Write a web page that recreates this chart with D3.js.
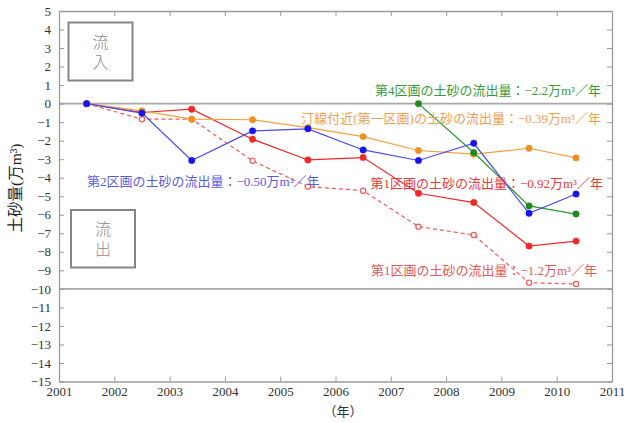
<!DOCTYPE html>
<html>
<head>
<meta charset="utf-8">
<script src="https://cdn.jsdelivr.net/npm/d3@7"></script>
<style>
  html, body { margin: 0; padding: 0; background: #fff; }
  svg { display: block; }
</style>
</head>
<body>
<svg id="chart" width="624" height="423"></svg>
<script>
// Survey years (fractional = survey month within the year)
const years = [2001.5, 2002.5, 2003.4, 2004.5, 2005.5, 2006.5, 2007.5, 2008.5, 2009.5, 2010.35];
// Cumulative sediment change (10,000 m³) for each zone
const shoreline = [0, -0.39, -0.84, -0.87, -1.3, -1.78, -2.53, -2.73, -2.41, -2.93];
const zone2 = [0, -0.51, -3.07, -1.47, -1.36, -2.5, -3.07, -2.14, -5.92, -4.88];
const zone1 = [0, -0.48, -0.3, -1.92, -3.04, -2.91, -4.84, -5.34, -7.69, -7.42];
const zone1Total = [0, -0.84, -0.84, -3.09, -4.48, -4.7, -6.64, -7.09, -9.67, -9.74];
const zone4Years = [2007.5, 2008.5, 2009.5, 2010.35];
const zone4 = [0, -2.64, -5.52, -5.96];

const xTicks = d3.range(2001, 2012);
const yTicks = d3.range(-15, 6);
const yLabel = "土砂量(万m³)";
const xLabel = "（年）";

const svg = d3.select("#chart");
const plotL = 59, plotR = 612, plotT = 11, plotB = 381.5;
const x = d3.scaleLinear().domain([2001, 2011]).range([plotL, plotR]);
const y = d3.scaleLinear().domain([-15, 5]).range([plotB, plotT]);

const axisColor = "#9a9a9a";
const serif = "'Liberation Serif', 'Times New Roman', serif";
const annFont = "'Liberation Serif', 'Noto Sans CJK JP', serif";
const fmt = d => d < 0 ? "\u2212" + Math.abs(d) : String(d);

// Reference lines at 0 and -10
[0, -10].forEach(v => {
  svg.append("line")
    .attr("x1", plotL).attr("x2", plotR)
    .attr("y1", y(v)).attr("y2", y(v))
    .attr("stroke", "#a8a8a8").attr("stroke-width", 1.6);
});

// Axes with inward ticks on all four sides
const gx = svg.append("g").attr("transform", `translate(0,${plotB})`)
  .call(d3.axisBottom(x).tickValues(xTicks).tickFormat(d3.format("d")).tickSizeInner(-5).tickSizeOuter(0).tickPadding(5));
const gxt = svg.append("g").attr("transform", `translate(0,${plotT})`)
  .call(d3.axisTop(x).tickValues(xTicks).tickFormat("").tickSizeInner(-5).tickSizeOuter(0));
const gy = svg.append("g").attr("transform", `translate(${plotL},0)`)
  .call(d3.axisLeft(y).tickValues(yTicks).tickFormat(fmt).tickSizeInner(-5).tickSizeOuter(0).tickPadding(8));
const gyr = svg.append("g").attr("transform", `translate(${plotR},0)`)
  .call(d3.axisRight(y).tickValues(yTicks).tickFormat("").tickSizeInner(-5).tickSizeOuter(0));
[gx, gxt, gy, gyr].forEach(g => {
  g.attr("font-family", serif).attr("font-size", 13);
  g.select(".domain").attr("stroke", axisColor).attr("stroke-width", 1.3);
  g.selectAll(".tick line").attr("stroke", axisColor);
  g.selectAll(".tick text").attr("fill", "#333");
});

// Inflow / outflow boxes, label set in vertical writing mode
function labelBox(x0, y0, w, h, label) {
  svg.append("rect").attr("x", x0).attr("y", y0).attr("width", w).attr("height", h)
    .attr("fill", "none").attr("stroke", "#858585").attr("stroke-width", 2);
  svg.append("text")
    .attr("x", x0 + w / 2).attr("y", y0 + h / 2 + 2)
    .attr("text-anchor", "middle")
    .style("writing-mode", "vertical-rl")
    .attr("letter-spacing", 4)
    .attr("font-family", "'Noto Sans CJK JP', sans-serif").attr("font-weight", 300)
    .attr("font-size", 16).attr("fill", "#8a8a8a").text(label);
}
labelBox(68.5, 22.5, 64, 58, "流入");
labelBox(71, 210, 64, 57.5, "流出");

// Series
const series = [
  { vals: zone1Total, xs: years, color: "#f05a5a", dash: "4,3", open: true },
  { vals: zone1, xs: years, color: "#f22828", dash: null, open: false },
  { vals: shoreline, xs: years, color: "#f2a040", mcolor: "#ea9025", dash: null, open: false },
  { vals: zone4, xs: zone4Years, color: "#2c9a2c", mcolor: "#1e8a1e", dash: null, open: false },
  { vals: zone2, xs: years, color: "#4a4ae8", mcolor: "#1515f0", dash: null, open: false }
];
const line = d3.line().x(d => x(d[0])).y(d => y(d[1]));
series.forEach(s => {
  const pts = s.xs.map((t, i) => [t, s.vals[i]]);
  svg.append("path").datum(pts).attr("d", line)
    .attr("fill", "none").attr("stroke", s.color).attr("stroke-width", 1.2)
    .attr("stroke-dasharray", s.dash);
  svg.selectAll(null).data(pts).enter().append("circle")
    .attr("cx", d => x(d[0])).attr("cy", d => y(d[1]))
    .attr("r", s.open ? 2.6 : 3.2)
    .attr("fill", s.open ? "#fff" : (s.mcolor || s.color))
    .attr("stroke", s.mcolor || s.color).attr("stroke-width", s.open ? 1.2 : 0.5);
});

// Rate annotations
function note(txt, xx, yy, anchor, color) {
  svg.append("text").attr("x", xx).attr("y", yy).attr("text-anchor", anchor)
    .attr("font-family", annFont).attr("font-size", 13).attr("fill", color).text(txt);
}
note("第4区画の土砂の流出量：\u22122.2万m³／年", 601, 95, "end", "#3a9a3a");
note("汀線付近(第一区画)の土砂の流出量：\u22120.39万m³／年", 601, 123, "end", "#f0a050");
note("第2区画の土砂の流出量：\u22120.50万m³／年", 87, 186, "start", "#5a5ae0");
note("第1区画の土砂の流出量：\u22120.92万m³／年", 603, 188, "end", "#e83a3a");
note("第1区画の土砂の流出量：\u22121.2万m³／年", 597, 275, "end", "#e25a5a");

// Axis titles
svg.append("text").attr("transform", "translate(21,188) rotate(-90)")
  .attr("text-anchor", "middle").attr("font-family", annFont)
  .attr("font-size", 15.5).attr("fill", "#222").text(yLabel);
svg.append("text").attr("x", 343).attr("y", 416).attr("text-anchor", "middle")
  .attr("font-family", annFont).attr("font-size", 13).attr("fill", "#333").text(xLabel);
</script>
</body>
</html>
